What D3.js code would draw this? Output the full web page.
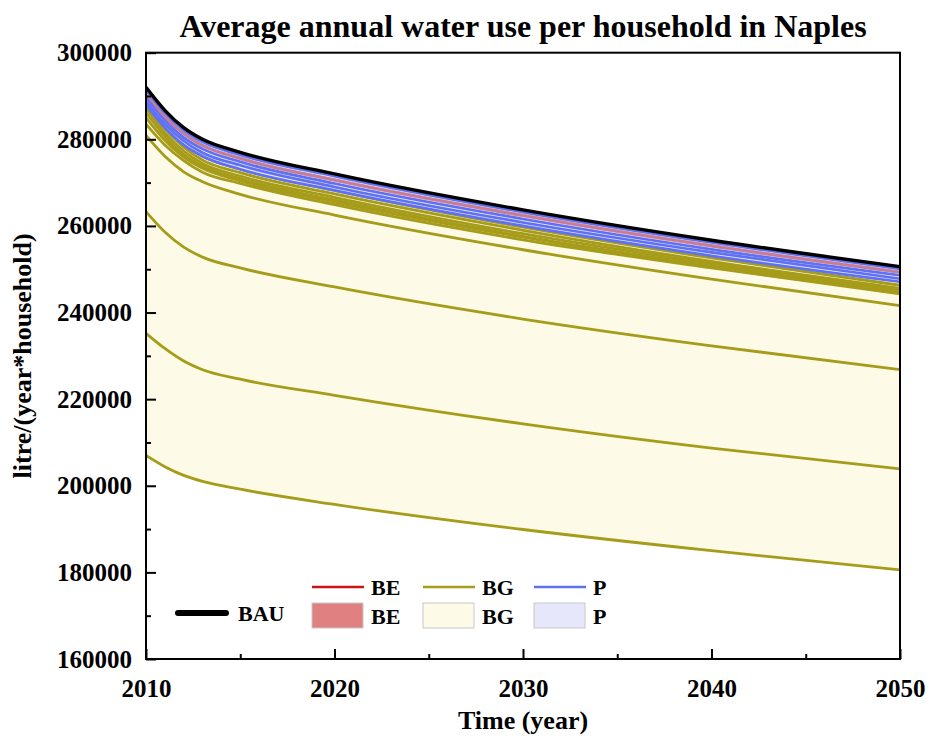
<!DOCTYPE html>
<html>
<head>
<meta charset="utf-8">
<script src="https://cdn.jsdelivr.net/npm/d3@7"></script>
<style>
  html, body { margin: 0; padding: 0; background: #fff; }
  svg { display: block; }
  text { font-family: "Liberation Serif", "Times New Roman", serif; font-weight: bold; fill: #000; }
</style>
</head>
<body>
<svg id="chart" width="936" height="736"></svg>
<script>
// ---- data ----
const years = [2010, 2011, 2012, 2013, 2015, 2020, 2030, 2040, 2050];

const bau = [292000, 286700, 282700, 280000, 277000, 272000, 263700, 256700, 250600];

const be1 = [291000, 285700, 281700, 279000, 276000, 271000, 262800, 255800, 249700];
const be2 = [290100, 284800, 280900, 278200, 275200, 270200, 262000, 255000, 249000];

const p1 = [291400, 286100, 282100, 279400, 276400, 271500, 263200, 256200, 250100];
const p2 = [290500, 285300, 281300, 278600, 275600, 270600, 262400, 255400, 249300];
const p3 = [289700, 284400, 280400, 277800, 274800, 269800, 261600, 254600, 248600];
const p4 = [288800, 283500, 279600, 276900, 274000, 269000, 260800, 253900, 247800];
const p5 = [287900, 282700, 278700, 276100, 273100, 268200, 260000, 253100, 247100];

const bg1  = [289100, 283300, 279000, 276100, 273100, 268200, 259700, 252600, 246300];
const bg2  = [288200, 282400, 278200, 275200, 272300, 267400, 259000, 251800, 245600];
const bg3  = [287300, 281500, 277300, 274400, 271500, 266600, 258200, 251300, 245100];
const bg4  = [286200, 280700, 276500, 273800, 270900, 266000, 257600, 250800, 244800];
const bg5  = [285000, 279800, 275900, 273300, 270400, 265500, 257400, 250500, 244600];
const bg6  = [283500, 278700, 275100, 272400, 269800, 264900, 256800, 250300, 244300];
const bg7  = [280900, 276100, 272500, 270200, 267300, 262500, 254500, 247700, 241600];
const bg8  = [263300, 258600, 255100, 252800, 250300, 245900, 238500, 232300, 226800];
const bg9  = [235200, 231700, 228800, 226800, 224600, 220900, 214300, 208700, 203900];
const bg10 = [207000, 204400, 202400, 201000, 199200, 195700, 189900, 185000, 180600];

const yTicks = [160000, 180000, 200000, 220000, 240000, 260000, 280000, 300000];
const yMinorTicks = [170000, 190000, 210000, 230000, 250000, 270000, 290000];
const xTicks = [2010, 2020, 2030, 2040, 2050];
const xMinorTicks = [2015, 2025, 2035, 2045];

const beSeries = [be1, be2];
const pSeries = [p1, p2, p3, p4, p5];
const bgSeries = [bg1, bg2, bg3, bg4, bg5, bg6, bg7, bg8, bg9, bg10];

const legendLines = [
  { label: "BE", color: "#c81414" },
  { label: "BG", color: "#a69c1a" },
  { label: "P",  color: "#5f70f2" }
];
const legendFills = [
  { label: "BE", color: "#e08080" },
  { label: "BG", color: "#fdfbe8" },
  { label: "P",  color: "#e6e7fa" }
];

// ---- layout ----
const svg = d3.select("#chart");
const L = 146, R = 900, T = 52.7, B = 659;

const x = d3.scaleLinear().domain([2010, 2050]).range([L, R]);
const y = d3.scaleLinear().domain([160000, 300000]).range([B, T]);

const defs = svg.append("defs");
defs.append("clipPath").attr("id", "clip")
  .append("rect").attr("x", L).attr("y", T).attr("width", R - L).attr("height", B - T);

const plot = svg.append("g").attr("clip-path", "url(#clip)");

const line = d3.line().x((d, i) => x(years[i])).y(d => y(d)).curve(d3.curveMonotoneX);
const band = (group) => years.map((yr, i) => ({
  lo: d3.min(group, s => s[i]), hi: d3.max(group, s => s[i])
}));
const area = d3.area().x((d, i) => x(years[i])).y0(d => y(d.lo)).y1(d => y(d.hi)).curve(d3.curveMonotoneX);

// BG band
plot.append("path").datum(band(bgSeries)).attr("d", area)
  .attr("fill", legendFills[1].color);
bgSeries.forEach(s => plot.append("path").datum(s).attr("d", line)
  .attr("fill", "none").attr("stroke", legendLines[1].color).attr("stroke-width", 2.8));

// BE lines underneath P
beSeries.forEach(s => plot.append("path").datum(s).attr("d", line)
  .attr("fill", "none").attr("stroke", legendLines[0].color).attr("stroke-width", 1.2));

// P band
plot.append("path").datum(band(pSeries)).attr("d", area)
  .attr("fill", legendFills[2].color);
pSeries.forEach(s => plot.append("path").datum(s).attr("d", line)
  .attr("fill", "none").attr("stroke", legendLines[2].color).attr("stroke-width", 2.7));

// BE band
plot.append("path").datum(band(beSeries)).attr("d", area)
  .attr("fill", legendFills[0].color).attr("fill-opacity", 0.8);

// BAU
plot.append("path").datum(bau).attr("d", line)
  .attr("fill", "none").attr("stroke", "#000").attr("stroke-width", 3.4);

// ---- axes ----
const fontTick = 25;
svg.append("g").attr("transform", `translate(0,${B})`)
  .call(d3.axisBottom(x).tickValues(xTicks).tickSize(-10).tickPadding(20).tickFormat(d3.format("d")));
svg.append("g").attr("transform", `translate(0,${B})`)
  .call(d3.axisBottom(x).tickValues(xMinorTicks).tickSize(-5).tickFormat(""));
svg.append("g").attr("transform", `translate(${L},0)`)
  .call(d3.axisLeft(y).tickValues(yTicks).tickSize(-10).tickPadding(14).tickFormat(d3.format("d")));
svg.append("g").attr("transform", `translate(${L},0)`)
  .call(d3.axisLeft(y).tickValues(yMinorTicks).tickSize(-5).tickFormat(""));

svg.selectAll(".domain").remove();
svg.selectAll(".tick line").attr("stroke", "#000").attr("stroke-width", 2);
svg.selectAll(".tick text").attr("font-size", fontTick)
  .attr("font-family", "'Liberation Serif', serif").attr("font-weight", "bold");

// frame
svg.append("rect").attr("x", L).attr("y", T).attr("width", R - L).attr("height", B - T)
  .attr("fill", "none").attr("stroke", "#000").attr("stroke-width", 2);

// titles
svg.append("text").attr("x", (L + R) / 2).attr("y", 37).attr("text-anchor", "middle")
  .attr("font-size", 32).text("Average annual water use per household in Naples");
svg.append("text").attr("x", (L + R) / 2).attr("y", 729).attr("text-anchor", "middle")
  .attr("font-size", 26).text("Time (year)");
svg.append("text").attr("transform", `translate(22,${(T + B) / 2}) rotate(-90)`)
  .attr("text-anchor", "middle").attr("dominant-baseline", "central")
  .attr("font-size", 26).text("litre/(year*household)");

// ---- legend ----
const lg = svg.append("g");
lg.append("line").attr("x1", 178).attr("x2", 226).attr("y1", 613).attr("y2", 613)
  .attr("stroke", "#000").attr("stroke-width", 6).attr("stroke-linecap", "round");
lg.append("text").attr("x", 238).attr("y", 613).attr("dominant-baseline", "central")
  .attr("font-size", 22).text("BAU");

const colX = [312, 423, 534];
legendLines.forEach((d, i) => {
  lg.append("line").attr("x1", colX[i]).attr("x2", colX[i] + 52).attr("y1", 587).attr("y2", 587)
    .attr("stroke", d.color).attr("stroke-width", 2.5);
  lg.append("text").attr("x", colX[i] + 59).attr("y", 587).attr("dominant-baseline", "central")
    .attr("font-size", 22).text(d.label);
});
legendFills.forEach((d, i) => {
  lg.append("rect").attr("x", colX[i]).attr("y", 603).attr("width", 51).attr("height", 25)
    .attr("fill", d.color).attr("stroke", "#c8c8c8").attr("stroke-width", 1);
  lg.append("text").attr("x", colX[i] + 59).attr("y", 616).attr("dominant-baseline", "central")
    .attr("font-size", 22).text(d.label);
});
</script>
</body>
</html>
